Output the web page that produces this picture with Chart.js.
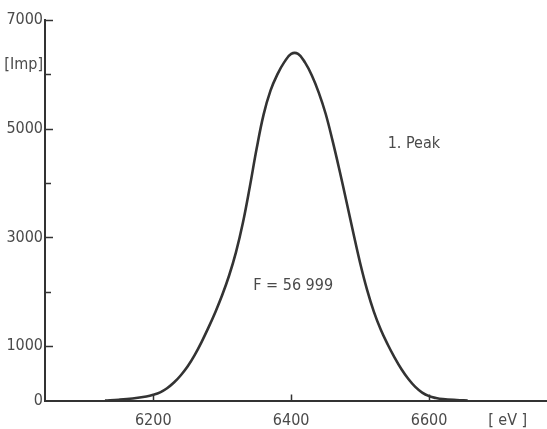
<!DOCTYPE html>
<html>
<head>
<meta charset="utf-8">
<script src="https://cdn.jsdelivr.net/npm/chart.js@4.4.1/dist/chart.umd.min.js"></script>
<style>
  html, body { margin: 0; padding: 0; background: #ffffff; }
  canvas { display: block; }
</style>
</head>
<body>
<canvas id="c" width="547" height="429"></canvas>
<script>
// Energy (eV) and counts (Imp)
const energy = [6130, 6150, 6170, 6190, 6200, 6210, 6220, 6230, 6240, 6250, 6260, 6270, 6280, 6290, 6300, 6310, 6320, 6330, 6340, 6350, 6360, 6370, 6380, 6390, 6400, 6410, 6420, 6430, 6440, 6450, 6460, 6470, 6480, 6490, 6500, 6510, 6520, 6530, 6540, 6550, 6560, 6570, 6580, 6590, 6600, 6610, 6620, 6640, 6656];
const counts = [0, 15, 38, 75, 105, 150, 225, 330, 465, 630, 835, 1075, 1340, 1625, 1940, 2300, 2730, 3270, 3930, 4640, 5260, 5700, 6000, 6225, 6375, 6375, 6220, 5980, 5665, 5275, 4780, 4240, 3670, 3090, 2530, 2040, 1630, 1300, 1030, 790, 575, 395, 250, 145, 80, 45, 25, 8, 0];

const xTickValues = [6200, 6400, 6600];
const yTickLabelValues = [0, 1000, 3000, 5000, 7000];
const yTickAllValues = [1000, 2000, 3000, 4000, 5000, 6000, 7000];

const xUnit = "[ eV ]";
const yUnit = "[Imp]";
const peakLabel = "1. Peak";
const areaLabel = "F = 56 999";

const FONT = "'Liberation Sans Narrow', 'DejaVu Sans Condensed', Roboto, sans-serif";
const TEXT = "#4a4a4a";
const INK = "#333333";

const points = energy.map((e, i) => ({ x: e, y: counts[i] }));

const decorations = {
  id: 'decorations',
  afterDraw(chart) {
    const ctx = chart.ctx;
    const xs = chart.scales.x, ys = chart.scales.y;
    const left = chart.chartArea.left, bottom = chart.chartArea.bottom;
    ctx.save();
    ctx.strokeStyle = INK;
    ctx.lineWidth = 1.5;
    // y ticks pointing inwards
    yTickAllValues.forEach(v => {
      const py = Math.round(ys.getPixelForValue(v)) + 0.5;
      const len = yTickLabelValues.includes(v) ? 8 : 6;
      ctx.beginPath();
      ctx.moveTo(left, py);
      ctx.lineTo(left + len, py);
      ctx.stroke();
    });
    // x ticks pointing upwards
    xTickValues.forEach(v => {
      const px = Math.round(xs.getPixelForValue(v)) + 0.5;
      ctx.beginPath();
      ctx.moveTo(px, bottom);
      ctx.lineTo(px, bottom - 6);
      ctx.stroke();
    });
    // texts
    ctx.fillStyle = TEXT;
    ctx.font = "16px " + FONT;
    ctx.textBaseline = 'middle';
    ctx.textAlign = 'right';
    ctx.fillText(yUnit, left - 2, ys.getPixelForValue(6180));
    ctx.textAlign = 'center';
    ctx.fillText(xUnit, xs.getPixelForValue(6714), bottom + 20);
    ctx.textAlign = 'left';
    ctx.fillText(peakLabel, xs.getPixelForValue(6540), ys.getPixelForValue(4727));
    ctx.fillText(areaLabel, xs.getPixelForValue(6345), ys.getPixelForValue(2110));
    ctx.restore();
  }
};

new Chart(document.getElementById('c'), {
  type: 'line',
  data: {
    datasets: [{
      data: points,
      borderColor: INK,
      borderWidth: 2.6,
      pointRadius: 0,
      fill: false,
      tension: 0.4
    }]
  },
  options: {
    responsive: false,
    animation: false,
    devicePixelRatio: 1,
    layout: { padding: { top: 20, right: 0, left: 0, bottom: 0 } },
    plugins: { legend: { display: false }, tooltip: { enabled: false } },
    scales: {
      x: {
        type: 'linear',
        min: 6043,
        max: 6771,
        afterBuildTicks: s => { s.ticks = xTickValues.map(v => ({ value: v })); },
        afterFit: s => { s.height = 28.5; },
        grid: { display: true, drawOnChartArea: false, drawTicks: false, color: 'rgba(0,0,0,0)' },
        border: { display: true, color: INK, width: 2 },
        ticks: { color: TEXT, font: { family: FONT, size: 16 }, padding: 11, maxRotation: 0, callback: v => String(v) }
      },
      y: {
        type: 'linear',
        min: 0,
        max: 7000,
        afterBuildTicks: s => { s.ticks = [0].concat(yTickAllValues).map(v => ({ value: v })); },
        afterFit: s => { s.width = 45; },
        grid: { display: true, drawOnChartArea: false, drawTicks: false, color: 'rgba(0,0,0,0)' },
        border: { display: true, color: INK, width: 2 },
        ticks: {
          color: TEXT,
          font: { family: FONT, size: 16 },
          padding: 2,
          callback: v => yTickLabelValues.includes(v) ? String(v) : ''
        }
      }
    }
  },
  plugins: [decorations]
});
</script>
</body>
</html>
